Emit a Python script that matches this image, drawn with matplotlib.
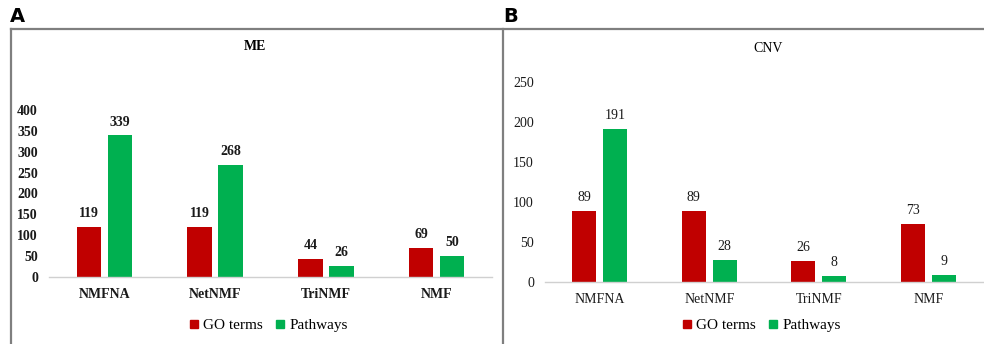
import matplotlib
matplotlib.use('Agg')
import matplotlib.pyplot as plt
from matplotlib.lines import Line2D
import numpy as np

# Enrichment counts per method
methods = ['NMFNA', 'NetNMF', 'TriNMF', 'NMF']
me_go = [119, 119, 44, 69]
me_pathways = [339, 268, 26, 50]
cnv_go = [89, 89, 26, 73]
cnv_pathways = [191, 28, 8, 9]

RED = '#C00000'
GREEN = '#00B050'
SERIF = 'Liberation Serif'

W, H = 984, 344
fig = plt.figure(figsize=(W / 100, H / 100), dpi=100)


def box(left, top, width, height):
    # pixel box (top-left origin) -> figure fraction rect
    return [left / W, (H - top - height) / H, width / W, height / H]


def fx(x):
    return x / W


def fy(y):
    return 1 - y / H


def draw_panel(rect, go, pw, ymax, step, weight, ypad):
    ax = fig.add_axes(rect)
    x = np.arange(len(methods))
    off, bw = 0.14, 0.22
    b1 = ax.bar(x - off, go, bw, color=RED)
    b2 = ax.bar(x + off, pw, bw, color=GREEN)
    for bars, vals in ((b1, go), (b2, pw)):
        for bar, v in zip(bars, vals):
            ax.annotate(str(v), (bar.get_x() + bar.get_width() / 2, v),
                        xytext=(0, 5), textcoords='offset points',
                        ha='center', va='bottom', fontsize=10,
                        family=SERIF, fontweight=weight, color='#1a1a1a',
                        annotation_clip=False)
    ax.set_xlim(-0.5, len(methods) - 0.5)
    ax.set_ylim(0, ymax)
    ax.set_yticks(np.arange(0, ymax + 1, step))
    ax.set_xticks(x)
    ax.set_xticklabels(methods)
    ax.tick_params(length=0, labelsize=10, colors='#1a1a1a')
    ax.tick_params(axis='x', pad=8)
    ax.tick_params(axis='y', pad=ypad)
    for lab in ax.get_xticklabels() + ax.get_yticklabels():
        lab.set_family(SERIF)
        lab.set_fontweight(weight)
    for s in ('top', 'right', 'left'):
        ax.spines[s].set_visible(False)
    ax.spines['bottom'].set_color('#D0D0D0')
    ax.spines['bottom'].set_linewidth(1)
    ax.patch.set_alpha(0)
    return ax


draw_panel(box(49, 110, 443, 167), me_go, me_pathways, 400, 50, 'bold', 8)
draw_panel(box(545, 82, 438, 200), cnv_go, cnv_pathways, 250, 50, 'normal', 8)

# Panel frames
frame = dict(color='#7F7F7F', linewidth=1.6, transform=fig.transFigure)
fig.add_artist(Line2D([fx(11), 1], [fy(29), fy(29)], **frame))
fig.add_artist(Line2D([fx(11), fx(11)], [fy(29), 0], **frame))
fig.add_artist(Line2D([fx(503), fx(503)], [fy(29), 0], **frame))

# Panel letters and titles
fig.text(fx(10), fy(17), 'A', fontsize=14, fontweight='bold', va='center')
fig.text(fx(503), fy(17), 'B', fontsize=14, fontweight='bold', va='center')
fig.text(fx(255), fy(46), 'ME', fontsize=10, family=SERIF, fontweight='bold',
         ha='center', va='center')
fig.text(fx(768), fy(48), 'CNV', fontsize=10, family=SERIF, ha='center', va='center')

# Legends
handles = [Line2D([], [], marker='s', linestyle='', color=RED, markersize=6),
           Line2D([], [], marker='s', linestyle='', color=GREEN, markersize=6)]
for cx in (267, 760):
    fig.legend(handles, ['GO terms', 'Pathways'], loc='center',
               bbox_to_anchor=(fx(cx), fy(325)), ncol=2, frameon=False,
               handletextpad=0.1, columnspacing=0.6, handlelength=1.0,
               prop={'family': SERIF, 'size': 11})

fig.savefig('out.png', dpi=100)
